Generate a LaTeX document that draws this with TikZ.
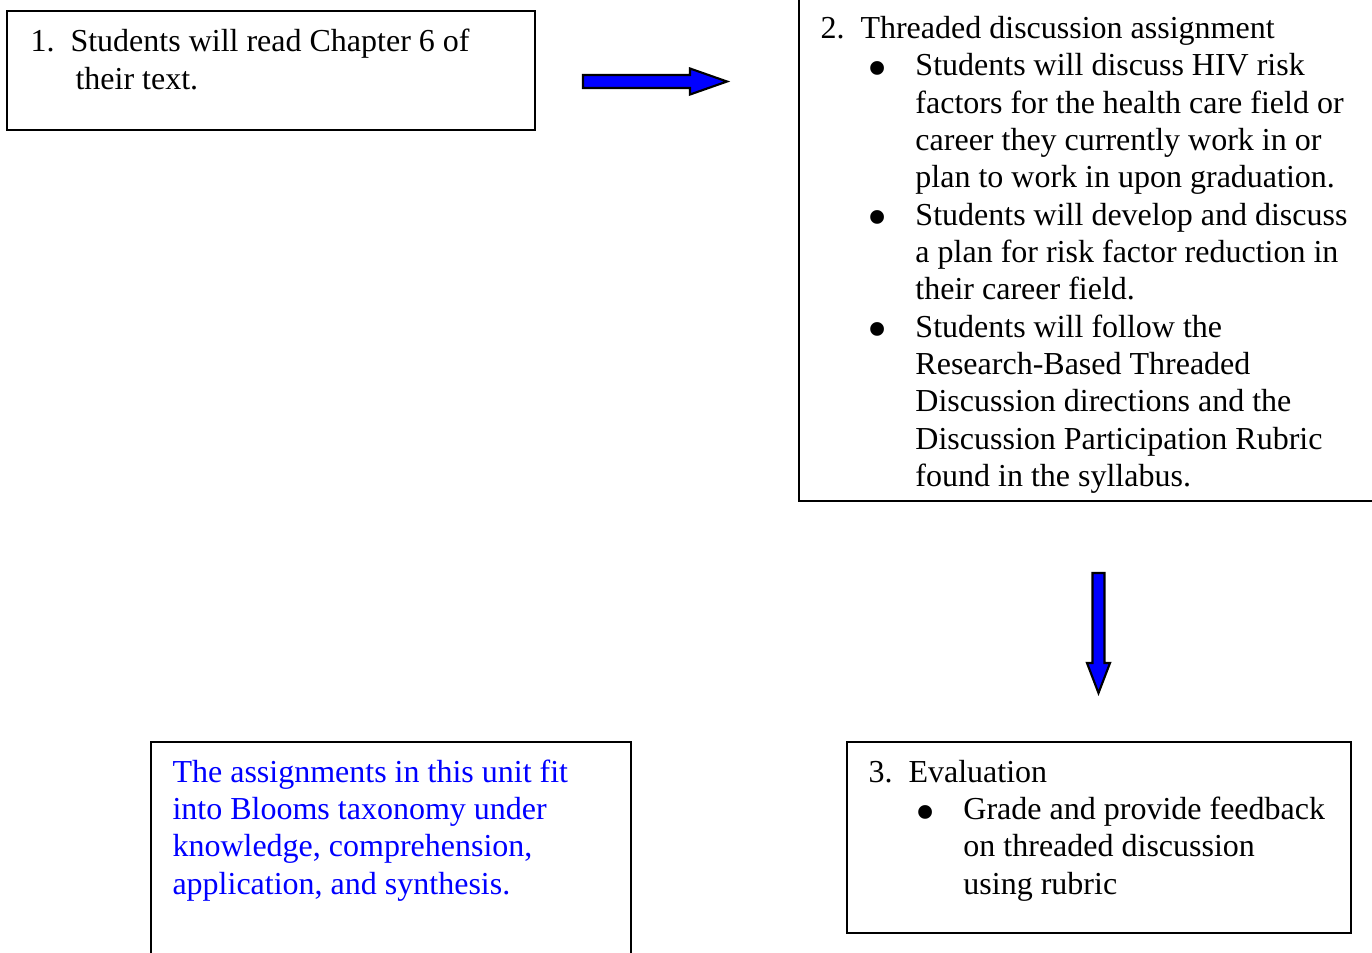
\documentclass[tikz,border=0pt]{standalone}
\usepackage{fontspec}
\setmainfont{Liberation Serif}
\usepackage{xcolor}
\usepackage{graphicx}
\usepackage{tikz}

% list helpers for the box texts
\newcommand{\numlbl}[1]{\makebox[15pt][l]{#1}}
\newcommand{\bul}{\hspace*{17.6pt}\makebox[18pt][l]{\raisebox{-4.4pt}[0pt][0pt]{\scalebox{1.8}{\textbullet}}}}
\newcommand{\cont}{\hspace*{35.6pt}}

\tikzset{
  boxline/.style={draw=black, line width=0.8pt},
  steptext/.style={anchor=base west, inner sep=0pt, align=left, font=\fontsize{12}{14}\selectfont},
  blockarrow/.style={draw=black, fill=blue, line width=0.8pt, line join=miter}
}

\begin{document}
\begin{tikzpicture}[x=0.375pt, y=-0.375pt]
			\useasboundingbox (0,0) rectangle (1372,952);
			\fill[white] (0,0) rectangle (1372,952);
			\clip (0,0) rectangle (1372,952);
			% boxes
			\draw[boxline] (7,11) rectangle (535,130);
			\draw[boxline] (799,-20) rectangle (1400,501);
			\draw[boxline] (151,742) rectangle (631,1000);
			\draw[boxline] (847,742) rectangle (1351,933);
			% texts (anchored at the baseline of their last line)
			\node[steptext] (read) at (30,89) {\numlbl{1.}Students will read Chapter 6 of\\\hspace*{16.9pt}their text.};
			\node[steptext] (threaded) at (820,486.5) {\numlbl{2.}Threaded discussion assignment\\
				\bul Students will discuss HIV risk\\
				\cont factors for the health care field or\\
				\cont career they currently work in or\\
				\cont plan to work in upon graduation.\\
				\bul Students will develop and discuss\\
				\cont a plan for risk factor reduction in\\
				\cont their career field.\\
				\bul Students will follow the\\
				\cont Research-Based Threaded\\
				\cont Discussion directions and the\\
				\cont Discussion Participation Rubric\\
				\cont found in the syllabus.};
			\node[steptext] (evaluation) at (868,894) {\numlbl{3.}Evaluation\\
				\bul Grade and provide feedback\\
				\cont on threaded discussion\\
				\cont using rubric};
			\node[steptext, text=blue] (blooms) at (172,894) {The assignments in this unit fit\\
				into Blooms taxonomy under\\
				knowledge, comprehension,\\
				application, and synthesis.};
			% block arrows
			\coordinate (a1) at (583,81.5);
			\coordinate (a2) at (1098.5,573);
			\draw[blockarrow] (a1) ++(0,-6.5) -- ++(107,0) -- ++(0,-6.5) -- ++(37,13) -- ++(-37,13) -- ++(0,-6.5) -- ++(-107,0) -- cycle;
			\draw[blockarrow] (a2) ++(-6,0) -- ++(0,90) -- ++(-5.5,0) -- ++(11.5,30) -- ++(11.5,-30) -- ++(-5.5,0) -- ++(0,-90) -- cycle;
		\end{tikzpicture}
\end{document}
